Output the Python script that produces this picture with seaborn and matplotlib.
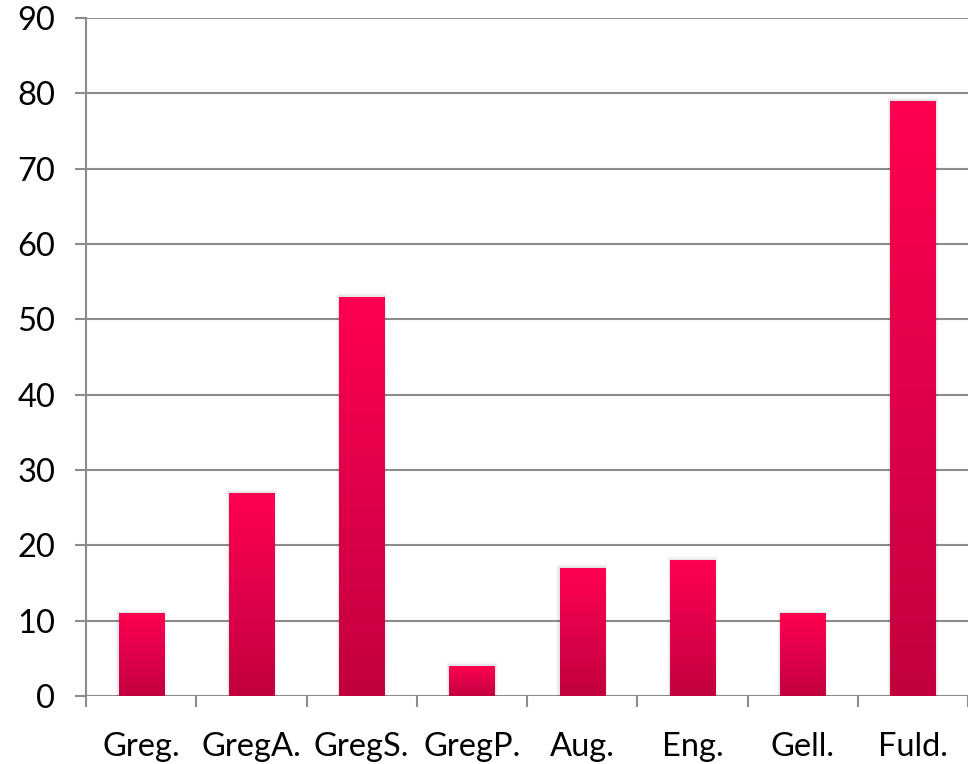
import numpy as np
import pandas as pd
import matplotlib
matplotlib.use("Agg")
import matplotlib.pyplot as plt
import seaborn as sns
from matplotlib.colors import LinearSegmentedColormap
from matplotlib.ticker import FixedLocator

categories = ["Greg.", "GregA.", "GregS.", "GregP.", "Aug.", "Eng.", "Gell.", "Fuld."]
values = [11, 27, 53, 4, 17, 18, 11, 79]
yticks = [0, 10, 20, 30, 40, 50, 60, 70, 80, 90]

sns.set_theme(style="white")
plt.rcParams['font.family'] = ['Lato', 'DejaVu Sans']

df = pd.DataFrame({"cat": categories, "val": values})

fig = plt.figure(figsize=(9.68, 7.64), dpi=100)
ax = fig.add_axes([86/968, 1 - 696/764, (968-86)/968, (696-18)/764])

sns.barplot(data=df, x="cat", y="val", color="#E8004A", width=0.41, ax=ax,
            saturation=1, linewidth=0)

ax.set_ylim(0, 90)
ax.set_xlim(-0.5, len(categories) - 0.5)
ax.set_yticks(yticks)
ax.set_xlabel("")
ax.set_ylabel("")

grad = LinearSegmentedColormap.from_list("g", ["#C2003E", "#E0004A", "#FF0050"])
gimg = np.linspace(0, 1, 256).reshape(-1, 1)
for p in list(ax.patches):
    x0, y0 = p.get_x(), p.get_y()
    w, h = p.get_width(), p.get_height()
    p.set_linewidth(0)
    for k, a in enumerate([0.05, 0.03, 0.015]):
        d = 0.01 * (k + 1)
        ax.add_patch(plt.Rectangle((x0 - d, y0), w + 2 * d, h + 0.2 * (k + 1),
                                   color="black", alpha=a, lw=0, zorder=1.5))
    im = ax.imshow(gimg, extent=(x0, x0 + w, y0, y0 + h), origin="lower",
                   cmap=grad, aspect="auto", zorder=3)
    im.set_clip_path(p)
    p.set_zorder(2.5)
ax.set_xlim(-0.5, len(categories) - 0.5)
ax.set_ylim(0, 90)

ax.grid(axis="y", color="#8C8C8C", linewidth=1.5, zorder=0)
ax.set_axisbelow(True)
for s in ["top", "right", "bottom"]:
    ax.spines[s].set_visible(False)
ax.spines["left"].set_color("#8C8C8C")
ax.spines["left"].set_linewidth(1.5)

ax.tick_params(axis="y", which="major", left=True, length=8, width=1.5, color="#8C8C8C",
               labelsize=23.5, pad=14, labelcolor="black")
ax.xaxis.set_minor_locator(FixedLocator(np.arange(-0.5, len(categories), 1.0)))
ax.tick_params(axis="x", which="minor", bottom=True, length=8, width=1.5, color="#8C8C8C",
               direction="out")
ax.tick_params(axis="x", which="major", bottom=False, labelsize=23.5, pad=20, labelcolor="black")

fig.savefig("out.png", dpi=100)
